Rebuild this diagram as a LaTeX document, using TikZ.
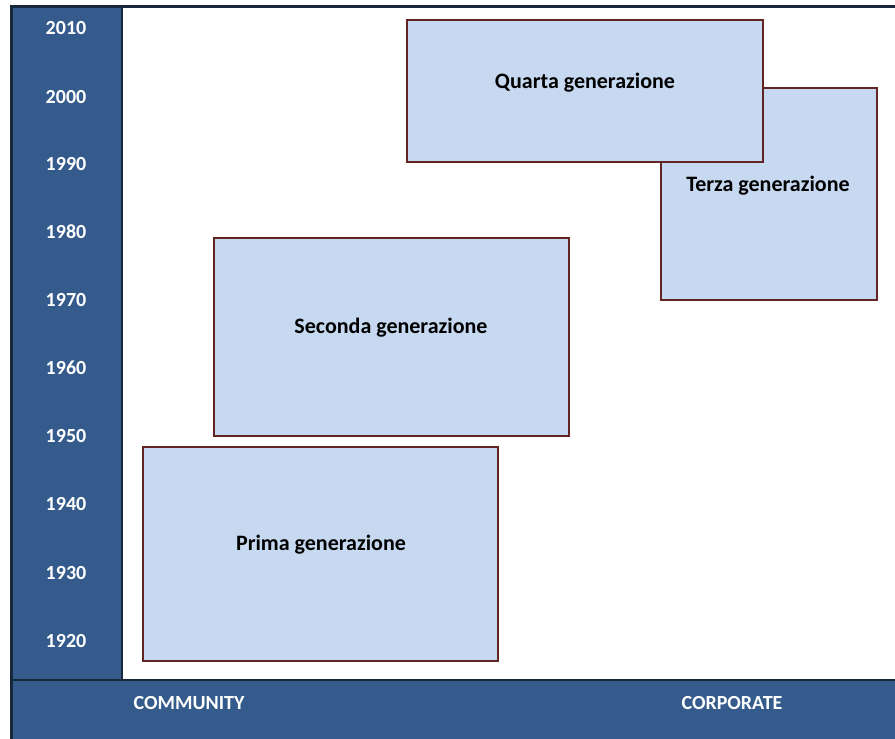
\documentclass[tikz,border=0pt]{standalone}
\usepackage{fontspec}
\setmainfont{Carlito}
\definecolor{barblue}{RGB}{53,91,140}
\definecolor{framedark}{RGB}{24,40,60}
\definecolor{boxfill}{RGB}{198,217,240}
\definecolor{boxline}{RGB}{99,37,35}
\begin{document}
\begin{tikzpicture}[x=1pt,y=-1pt,
  genbox/.style={draw=boxline,fill=boxfill,line width=2.4pt},
  gentext/.style={font=\bfseries\fontsize{22}{26}\selectfont,text=black},
  yearlbl/.style={font=\bfseries\fontsize{20}{24}\selectfont,text=white},
  axislbl/.style={font=\bfseries\fontsize{20}{24}\selectfont,text=white}]
\useasboundingbox (0,0) rectangle (895,739);
\fill[white] (0,0) rectangle (895,739);
% left bar and bottom bar
\fill[barblue] (10,6) rectangle (122,680);
\fill[barblue] (10,680) rectangle (895,739);
\draw[framedark,line width=3pt] (10,6) -- (895,6);
\draw[framedark,line width=3pt] (11,6) -- (11,739);
\draw[framedark,line width=1.2pt] (122,6) -- (122,680);
\draw[framedark,line width=2pt] (10,680) -- (895,680);
% years
\foreach \yr/\yy in {2010/28,2000/97,1990/164,1980/232,1970/300,1960/368,1950/436,1940/504,1930/573,1920/641}
  \node[yearlbl] (y\yr) at (66,\yy) {\yr};
\node[axislbl] (community) at (189,703) {COMMUNITY};
\node[axislbl] (corporate) at (732,703) {CORPORATE};
% boxes
\draw[genbox] (661,88) rectangle (877,300);
\node[gentext] (terza) at (768,186) {Terza generazione};
\draw[genbox] (407,20) rectangle (763,162);
\node[gentext] (quarta) at (585,83) {Quarta generazione};
\draw[genbox] (214,238) rectangle (569,436);
\node[gentext] (seconda) at (391,328) {Seconda generazione};
\draw[genbox] (143,447) rectangle (498,661);
\node[gentext] (prima) at (321,545) {Prima generazione};
\end{tikzpicture}
\end{document}
